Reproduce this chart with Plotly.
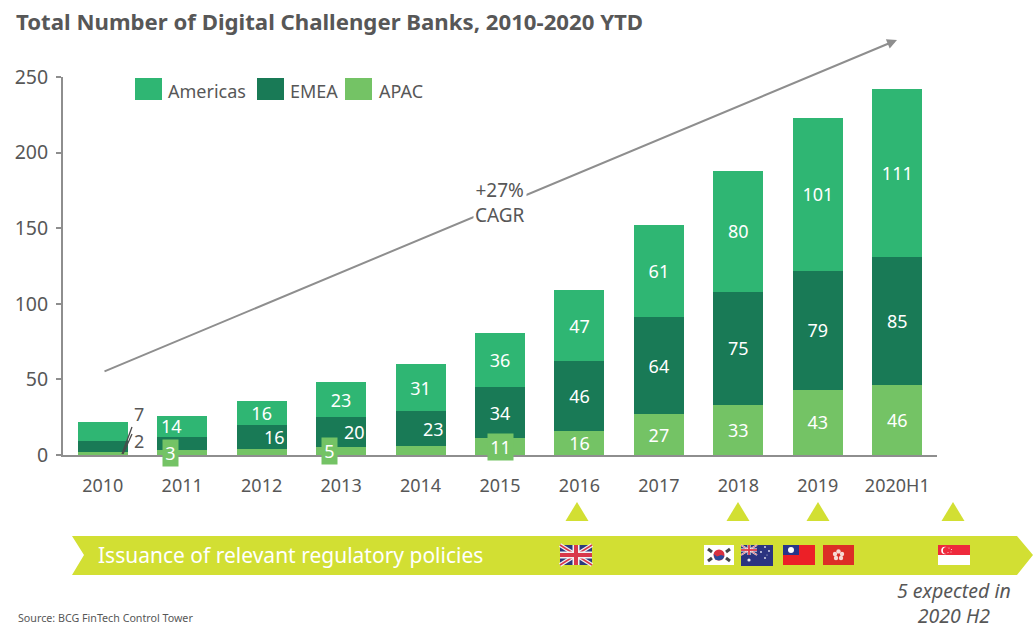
import plotly.graph_objects as go

categories = ["2010","2011","2012","2013","2014","2015","2016","2017","2018","2019","2020H1"]
apac = [2,3,4,5,6,11,16,27,33,43,46]
emea = [7,9,16,20,23,34,46,64,75,79,85]
americas = [13,14,16,23,31,36,47,61,80,101,111]

C_AM, C_EM, C_AP = "#2fb673", "#197a56", "#74c365"
GREY = "#575757"; AXIS = "#8e8e8e"; LIME = "#d2df33"
FONT = "Noto Sans"

W, H = 1035, 632
L, R, T, B = 63, 98, 77, 177
def X(p): return (p - L) / (W - L - R)
def Y(p): return (H - B - p) / (H - T - B)

shapes = []
def rect(x0, y0, x1, y1, c):
    shapes.append(dict(type="rect", xref="paper", yref="paper", x0=X(x0), x1=X(x1), y0=Y(y0), y1=Y(y1),
                       fillcolor=c, line=dict(width=0), layer="above"))
def circ(cx, cy, r, c):
    rect_d = dict(type="circle", xref="paper", yref="paper", x0=X(cx-r), x1=X(cx+r), y0=Y(cy-r), y1=Y(cy+r),
                  fillcolor=c, line=dict(width=0), layer="above")
    shapes.append(rect_d)
def seg(x0, y0, x1, y1, c, w):
    shapes.append(dict(type="line", xref="paper", yref="paper", x0=X(x0), x1=X(x1), y0=Y(y0), y1=Y(y1),
                       line=dict(color=c, width=w), layer="above"))
def poly(pts, c):
    d = "M" + "L".join(f"{X(a):.5f},{Y(b):.5f}" for a, b in pts) + "Z"
    shapes.append(dict(type="path", xref="paper", yref="paper", path=d, fillcolor=c, line=dict(width=0), layer="above"))

def union_jack(x0, y0, x1, y1, s=1.0):
    rect(x0, y0, x1, y1, "#2b3a7e")
    seg(x0, y0, x1, y1, "#f2f2f2", 4*s); seg(x0, y1, x1, y0, "#f2f2f2", 4*s)
    seg(x0, y0, x1, y1, "#d9384a", 1.5*s); seg(x0, y1, x1, y0, "#d9384a", 1.5*s)
    xm, ym = (x0+x1)/2, (y0+y1)/2
    rect(xm-3.5*s, y0, xm+3.5*s, y1, "#f2f2f2"); rect(x0, ym-3.5*s, x1, ym+3.5*s, "#f2f2f2")
    rect(xm-2*s, y0, xm+2*s, y1, "#d9384a"); rect(x0, ym-2*s, x1, ym+2*s, "#d9384a")

# regulatory band
poly([(72,536),(1017,536),(1033,555),(1017,575),(72,575),(84,555)], LIME)
for cx in (577, 738, 818, 953):
    poly([(cx-11.5,521),(cx,502),(cx+11.5,521)], LIME)

# flags
union_jack(560, 545, 592, 565)
# Korea
rect(704, 545, 734, 565, "#ffffff")
circ(719, 555, 5.5, "#d8303f")
poly([(713.6,554),(717,556.5),(721,555),(724.4,556),(723,559),(719,560.5),(715,559.5)], "#2b4a9a")
for a, b, c, d in [(708,549,712,552),(726,552,730,549),(708,561,712,558),(726,558,730,561)]:
    seg(a, b, c, d, "#444444", 3)
# Australia
rect(741, 545, 773, 566, "#2b3480")
union_jack(741, 545, 757, 555, 0.45)
for a, b, r_ in [(749,560,1.6),(765,547,0.9),(769,551,0.9),(765,558,0.9),(761,552,0.9),(767,555,0.5)]:
    circ(a, b, r_, "#e8e8f2")
# Taiwan
rect(783, 545, 815, 565, "#ec2027")
rect(783, 545, 799, 555, "#27358a")
circ(791, 550, 3, "#ffffff")
# Hong Kong
rect(823, 545, 854, 565, "#dc2e26")
for a, b in [(838.5,551.5),(842,554),(841,558),(836,558),(835,554)]:
    circ(a, b, 2.2, "#f6d9d4")
circ(838.5, 555, 1.2, "#dc2e26")
# Singapore
rect(938, 545, 970, 555, "#ee2a3c")
rect(938, 555, 970, 565, "#ffffff")
circ(945, 550.5, 3.8, "#ffffff")
circ(946.5, 550.5, 3.6, "#ee2a3c")
for a, b in [(949,548),(951.5,549.5),(951,552),(948,552.5)]:
    circ(a, b, 0.5, "#ffffff")

# legend swatches
for x0, c in ((135, C_AM), (257, C_EM), (345, C_AP)):
    rect(x0, 78, x0+27, 100, c)

# 2010 leader lines
seg(132, 427, 122, 454, "#4a4a4a", 1.3)
seg(132, 434, 123, 454, "#4a4a4a", 1.3)

base_em = apac
base_am = [a+e for a, e in zip(apac, emea)]
def txt(vals, keep):
    return [str(v) if i in keep else "" for i, v in enumerate(vals)]

traces = [("APAC", apac, C_AP, txt(apac, range(6, 11))),
          ("EMEA", emea, C_EM, txt(emea, range(5, 11))),
          ("Americas", americas, C_AM, txt(americas, range(2, 11)))]
fig = go.Figure()
for name, vals, c, t in traces:
    fig.add_bar(name=name, x=categories, y=vals, marker=dict(color=c, line=dict(width=0)), width=0.63,
                text=t, textposition="inside", insidetextanchor="middle", textangle=0,
                constraintext="none", textfont=dict(color="white", size=18, family=FONT), showlegend=False)

ann = []
def note(x, y, s, size=18, color=GREY, xanchor="center", **kw):
    ann.append(dict(xref="paper", yref="paper", x=X(x), y=Y(y), text=s, showarrow=False,
                    xanchor=xanchor, yanchor="middle",
                    font=dict(family=FONT, size=size, color=color), **kw))
def barlabel(i, base, val, shift, **kw):
    # a numeric category index: strings like "2011" would be read as a serial number
    ann.append(dict(xref="x", yref="y", x=i, y=base+val/2, xshift=shift, text=str(val), showarrow=False,
                    xanchor="center", yanchor="middle",
                    font=dict(family=FONT, size=18, color="white"), **kw))

# shifted segment labels
barlabel(1, base_am[1], americas[1], -11)
barlabel(2, base_em[2], emea[2], 13)
barlabel(3, base_em[3], emea[3], 13)
barlabel(4, base_em[4], emea[4], 13)
boxed = dict(bgcolor=C_AP, height=26, borderpad=0)
barlabel(1, 0, apac[1], -12, width=15, **boxed)
barlabel(3, 0, apac[3], -12, width=15, **boxed)
barlabel(5, 0, apac[5], 0, width=25, **boxed)
note(139, 414, str(emea[0]))
note(139, 441, str(apac[0]))

# CAGR arrow
ann.append(dict(xref="paper", yref="paper", x=X(897), y=Y(40), ax=103-897, ay=372-40, axref="pixel", ayref="pixel",
                text="", showarrow=True, arrowhead=2, arrowsize=1, arrowwidth=2, arrowcolor=AXIS))
note(500, 202, "+27%<br>CAGR", size=19, bgcolor="#ffffff", align="center")

# texts
note(14, 21, "<b>Total Number of Digital Challenger Banks, 2010-2020 YTD</b>", size=22.2, xanchor="left")
note(166, 91, "Americas", xanchor="left")
note(288, 91, "EMEA", xanchor="left")
note(377, 91, "APAC", xanchor="left")
note(96, 555, "Issuance of relevant regulatory policies", size=21, color="#ffffff", xanchor="left")
note(954, 603, "<i>5 expected in<br>2020 H2</i>", size=19.5, align="center")
note(16, 618, "Source: BCG FinTech Control Tower", size=10.7, xanchor="left")

fig.update_layout(
    width=W, height=H, barmode="stack", bargap=0.37,
    margin=dict(l=L, r=R, t=T, b=B, pad=0),
    paper_bgcolor="white", plot_bgcolor="white",
    font=dict(family=FONT, color=GREY, size=18),
    shapes=shapes, annotations=ann, showlegend=False,
    xaxis=dict(type="category", categoryorder="array", categoryarray=categories, range=[-0.5, 10.5],
               showline=True, linecolor=AXIS, linewidth=2, ticks="", showgrid=False, zeroline=False,
               tickfont=dict(size=18, color=GREY, family=FONT), ticklabelstandoff=13),
    yaxis=dict(range=[0, 250], tickvals=[0,50,100,150,200,250], showline=True, linecolor=AXIS, linewidth=2,
               ticks="outside", ticklen=5, tickwidth=2, tickcolor=AXIS, showgrid=False, zeroline=False,
               ticklabelstandoff=4,
               tickfont=dict(size=19.5, color=GREY, family=FONT)),
)
fig.write_html("out.html", config=dict(displayModeBar=False),
               post_script="document.body.style.margin='0';document.body.style.overflow='hidden';")
